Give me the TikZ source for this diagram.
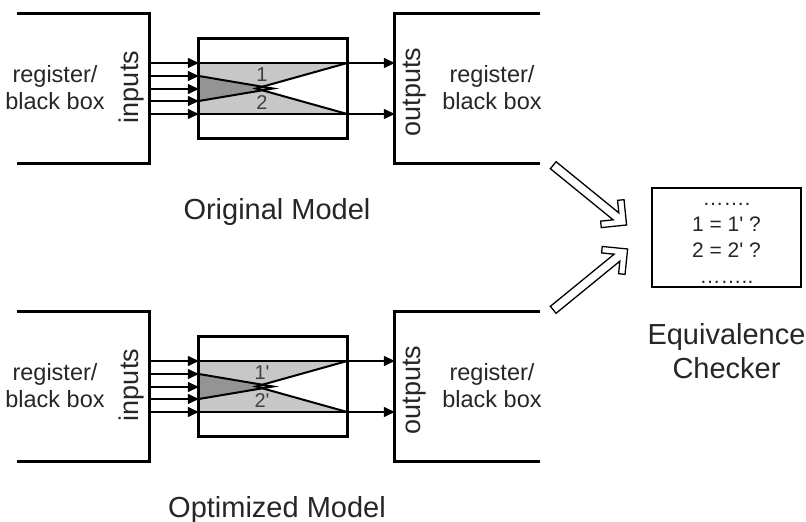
\documentclass[tikz,border=0pt]{standalone}
\usepackage{fontspec}
\setmainfont{Liberation Sans}
\usetikzlibrary{arrows.meta,positioning,calc}

\newcommand{\prm}{\textquotesingle}

\tikzset{
  thick box/.style={line width=2.8pt},
  regbox/.style={minimum height=149pt, inner sep=0pt},
  sig/.style={line width=1.4pt, -{Triangle[length=11pt,width=10pt]}},
  cross/.style={line width=2pt, line join=miter},
  regtext/.style={font=\fontsize{23.5}{27}\selectfont, align=center, text=black!85},
  port/.style={font=\fontsize{27}{30}\selectfont, rotate=90, text=black!85},
  title/.style={font=\fontsize{29}{34}\selectfont, align=center, text=black!85},
  netlbl/.style={font=\fontsize{20}{22}\selectfont, text=black!75, inner sep=0pt},
  fatarrow/.style={draw, line width=1.3pt, fill=white, line join=miter}
}

% hollow arrow from #1 to #2
\newcommand{\hollowarrow}[2]{%
  \path[fatarrow] ($(#1)!4.5pt!90:(#2)$) -- ($(#2)!14.42pt!-18.2:(#1)$) -- ($(#2)!26.27pt!-30.7:(#1)$)
    -- ($(#2)!25.46pt!-45:(#1)$) -- (#2) -- ($(#2)!25.46pt!45:(#1)$) -- ($(#2)!26.27pt!30.7:(#1)$)
    -- ($(#2)!14.42pt!18.2:(#1)$) -- ($(#1)!4.5pt!-90:(#2)$) -- cycle;}

\begin{document}
\begin{tikzpicture}[x=1pt, y=-1pt]
\useasboundingbox (0,0) rectangle (806,522);

% the two models, one above the other
\foreach \m/\dy/\name/\p in {a/0/Original/, b/298/Optimized/\prm}{
\begin{scope}[yshift=-\dy]
  \node[regbox, minimum width=132pt] (inreg\m) at (83,88.5) {};
  \node[regbox, minimum width=145pt] (outreg\m) at (467.5,88.5) {};
  \node[minimum width=148pt, minimum height=99pt, inner sep=0pt] (core\m) at (273,88.5) {};
  % shaded nets
  \fill[black!22] (core\m.west |- 0,63) -- (345,63) -- (256,88.5) -- (345,114) -- (core\m.west |- 0,114) -- cycle;
  \fill[black!42] (core\m.west |- 0,76) -- (273,88.5) -- (core\m.west |- 0,101) -- cycle;
  \draw[cross] (core\m.west |- 0,76) -- (273,88.5) -- (core\m.west |- 0,101);
  \draw[cross] (core\m.east |- 0,63) -- (256,88.5) -- (core\m.east |- 0,114);
  \draw[line width=1.4pt] (core\m.west |- 0,63) -- (core\m.east |- 0,63);
  \draw[line width=1.4pt] (core\m.west |- 0,114) -- (core\m.east |- 0,114);
  \node[netlbl] (n1\m) at (262,75) {1\p};
  \node[netlbl] (n2\m) at (262,103) {2\p};
  \draw[thick box] (core\m.north west) rectangle (core\m.south east);
  % register boxes
  \draw[thick box] (inreg\m.north west) -- (inreg\m.north east) -- (inreg\m.south east) -- (inreg\m.south west);
  \draw[thick box] (outreg\m.north east) -- (outreg\m.north west) -- (outreg\m.south west) -- (outreg\m.south east);
  \node[regtext] (lt\m) at (55,88) {register/\\black box};
  \node[regtext] (rt\m) at (492,88) {register/\\black box};
  \node[port] (in\m) at (132,87) {inputs};
  \node[port] (out\m) at (415,92) {outputs};
  \foreach \y in {63,76,89,101,114}
    \draw[sig] (inreg\m.east |- 0,\y) -- (core\m.west |- 0,\y);
  \foreach \y in {63,114}
    \draw[sig] (core\m.east |- 0,\y) -- (outreg\m.west |- 0,\y);
  \node[title] (model\m) at (277,212) {\name{} Model};
\end{scope}
}

% equivalence checker
\node[draw, thick box, minimum width=149pt, minimum height=99pt] (checker) at (726.5,237.5) {};
\node[font=\fontsize{21}{26}\selectfont, align=center, text=black!85] (cmp) at ([yshift=-6]checker.center)
  {…….\\1 = 1\prm{} ?\\2 = 2\prm{} ?\\……..};
\node[title, below=35pt of checker, inner sep=0pt] (eqc) {Equivalence\\Checker};

\coordinate (tailA) at ([shift={(13,2)}]outrega.south east);
\coordinate (tailB) at ([shift={(13,-2)}]outregb.north east);
\coordinate (tipA) at ([shift={(-24,-12.5)}]checker.west);
\coordinate (tipB) at ([shift={(-23,11.5)}]checker.west);
\hollowarrow{tailA}{tipA}
\hollowarrow{tailB}{tipB}
\end{tikzpicture}
\end{document}
